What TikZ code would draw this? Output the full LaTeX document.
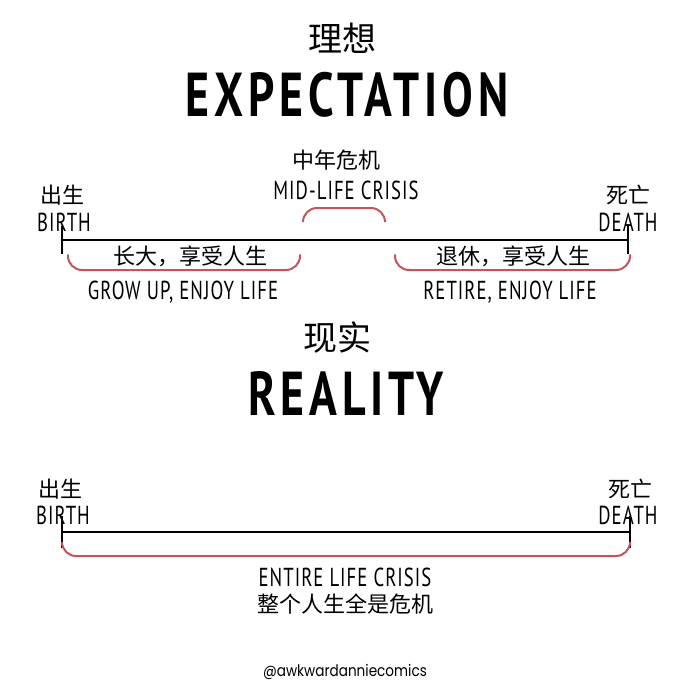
\documentclass[tikz,border=0pt]{standalone}
\usepackage{fontspec}
\newfontfamily\cjk{Noto Sans CJK SC}
\newfontfamily\cond[FakeStretch=0.72,LetterSpace=4]{PT Sans}
\newfontfamily\condb[FakeStretch=0.74,LetterSpace=8]{PT Sans Bold}
\newfontfamily\handle[FakeStretch=0.85]{Poppins}
\definecolor{crisisred}{RGB}{196,84,90}
\begin{document}
\begin{tikzpicture}[x=0.5pt,y=-0.5pt,
  cn/.style={font=\cjk\fontsize{11}{12}\selectfont, inner sep=0pt},
  cnbig/.style={font=\cjk\fontsize{17}{18}\selectfont, inner sep=0pt},
  lab/.style={font=\cond\fontsize{13}{14}\selectfont, inner sep=0pt},
  title/.style={font=\condb\fontsize{31}{32}\selectfont, inner sep=0pt},
  tline/.style={line width=1.2pt, black},
  brk/.style={line width=1pt, crisisred, rounded corners=7pt, line cap=round}]
\useasboundingbox (0,0) rectangle (690,690);
\fill[white] (0,0) rectangle (690,690);
% ---- Expectation
\node[cnbig] (t1cn) at (342,38) {理想};
\node[title] (t1) at (347,95) {EXPECTATION};
\node[cn] (mlcn) at (336,160) {中年危机};
\node[lab] (ml) at (346,190) {MID-LIFE CRISIS};
\node[cn] (b1cn) at (62,195) {出生};
\node[lab] (b1) at (64,222) {BIRTH};
\node[cn] (d1cn) at (628,195) {死亡};
\node[lab] (d1) at (628,222) {DEATH};
\coordinate (s1) at (62,240);
\coordinate (e1) at (628,240);
\draw[tline] (s1) -- (e1);
\draw[tline] ([yshift=-7]s1) -- ([yshift=7]s1);
\draw[tline] ([yshift=-7]e1) -- ([yshift=7]e1);
\coordinate (m1) at (303,221);
\coordinate (m2) at (385,221);
\coordinate (my) at (0,208);
\draw[brk] (m1) -- (m1 |- my) -- (m2 |- my) -- (m2);
\coordinate (g1) at (68,255);
\coordinate (g2) at (300,255);
\coordinate (gy) at (0,270);
\draw[brk] (g1) -- (g1 |- gy) -- (g2 |- gy) -- (g2);
\coordinate (r1) at (395,255);
\coordinate (r2) at (630,255);
\draw[brk] (r1) -- (r1 |- gy) -- (r2 |- gy) -- (r2);
\node[cn] (gcn) at (190,256) {长大，享受人生};
\node[lab] (g) at (183,292) {GROW UP, ENJOY LIFE};
\node[cn] (rcn) at (513,256) {退休，享受人生};
\node[lab] (r) at (510,292) {RETIRE, ENJOY LIFE};
% ---- Reality
\node[cnbig] (t2cn) at (337,338) {现实};
\node[title] (t2) at (346,393) {REALITY};
\node[cn] (b2cn) at (60,489) {出生};
\node[lab] (b2) at (63,515) {BIRTH};
\node[cn] (d2cn) at (630,489) {死亡};
\node[lab] (d2) at (628,515) {DEATH};
\coordinate (s2) at (62,532);
\coordinate (e2) at (630,532);
\draw[tline] (s2) -- (e2);
\draw[tline] ([yshift=-8]s2) -- ([yshift=8]s2);
\draw[tline] ([yshift=-8]e2) -- ([yshift=8]e2);
\coordinate (c1) at (62,545);
\coordinate (c2) at (630,545);
\coordinate (cy) at (0,556);
\draw[brk] (c1) -- (c1 |- cy) -- (c2 |- cy) -- (c2);
\node[lab] (ec) at (345,577) {ENTIRE LIFE CRISIS};
\node[cn] (eccn) at (345,604) {整个人生全是危机};
\node[font=\handle\fontsize{8}{9}\selectfont, inner sep=0pt] (h) at (345,672) {@awkwardanniecomics};
\end{tikzpicture}
\end{document}
